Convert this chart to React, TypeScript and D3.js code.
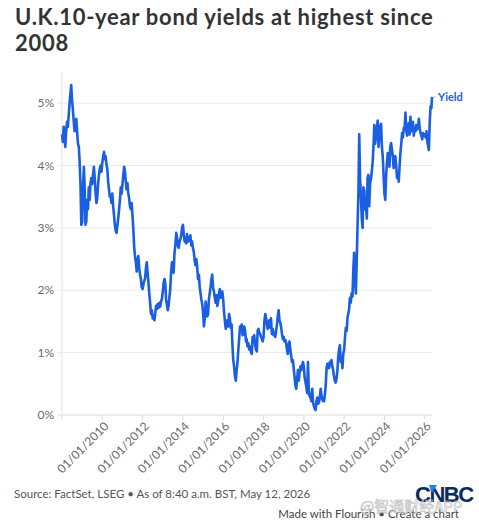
import { useEffect, useRef } from "react";
import * as d3 from "d3";

// U.K. 10-year gilt yield (%): two points a month (1st and 16th)
const y2008 = [4.5, 4.38, 4.62, 4.45, 4.3, 4.55, 4.7, 4.62, 4.8, 4.98, 5.15, 5.29, 5.05, 4.9, 4.7, 4.55, 4.68, 4.75, 4.55, 4.35, 4.3, 4.05, 3.7, 3.05];
const y2009 = [3.1, 3.65, 3.98, 3.6, 3.05, 3.1, 3.45, 3.3, 3.65, 3.45, 3.72, 3.8, 3.7, 3.85, 3.98, 3.8, 3.55, 3.4, 3.48, 3.7, 3.85, 3.95, 4.0, 3.9];
const y2010 = [4.05, 4.15, 4.22, 4.1, 4.15, 4.02, 3.95, 3.75, 3.62, 3.5, 3.5, 3.4, 3.55, 3.35, 3.2, 3.05, 2.95, 2.92, 3.05, 3.15, 3.3, 3.45, 3.65, 3.55];
const y2011 = [3.7, 3.85, 3.98, 3.9, 3.75, 3.62, 3.72, 3.55, 3.48, 3.35, 3.3, 3.4, 3.2, 3.0, 2.7, 2.55, 2.45, 2.3, 2.48, 2.55, 2.35, 2.25, 2.18, 2.05];
const y2012 = [2.02, 2.1, 2.15, 2.2, 2.35, 2.45, 2.28, 2.12, 1.95, 1.8, 1.62, 1.68, 1.55, 1.6, 1.52, 1.62, 1.75, 1.7, 1.78, 1.72, 1.8, 1.74, 1.82, 1.86];
const y2013 = [1.98, 2.12, 2.18, 2.1, 1.85, 1.78, 1.68, 1.75, 1.9, 2.02, 2.3, 2.45, 2.35, 2.28, 2.6, 2.72, 2.92, 2.85, 2.72, 2.68, 2.78, 2.82, 2.88, 3.0];
const y2014 = [3.05, 2.9, 2.78, 2.82, 2.75, 2.9, 2.78, 2.85, 2.8, 2.88, 2.72, 2.78, 2.68, 2.62, 2.48, 2.4, 2.5, 2.38, 2.18, 2.25, 2.05, 1.95, 1.85, 1.78];
const y2015 = [1.65, 1.42, 1.55, 1.82, 1.7, 1.58, 1.62, 1.85, 1.95, 2.05, 2.18, 2.25, 2.05, 1.98, 1.88, 1.8, 1.92, 1.75, 1.82, 1.95, 2.02, 1.88, 1.92, 1.98];
const y2016 = [1.85, 1.65, 1.5, 1.38, 1.45, 1.52, 1.42, 1.62, 1.55, 1.4, 1.45, 1.12, 0.88, 0.78, 0.62, 0.55, 0.72, 0.85, 1.05, 1.22, 1.42, 1.35, 1.45, 1.28];
const y2017 = [1.3, 1.42, 1.35, 1.18, 1.22, 1.1, 1.15, 1.05, 1.1, 1.02, 0.98, 1.25, 1.2, 1.28, 1.12, 1.05, 1.02, 1.35, 1.38, 1.32, 1.3, 1.25, 1.22, 1.18];
const y2018 = [1.25, 1.5, 1.62, 1.55, 1.48, 1.38, 1.45, 1.52, 1.4, 1.55, 1.3, 1.38, 1.28, 1.32, 1.25, 1.35, 1.45, 1.58, 1.68, 1.52, 1.48, 1.4, 1.3, 1.22];
const y2019 = [1.25, 1.18, 1.2, 1.15, 1.05, 0.98, 1.12, 1.18, 1.05, 0.95, 0.85, 0.88, 0.75, 0.62, 0.48, 0.42, 0.58, 0.72, 0.55, 0.68, 0.78, 0.72, 0.8, 0.85];
const y2020 = [0.78, 0.6, 0.52, 0.45, 0.35, 0.85, 0.38, 0.3, 0.28, 0.22, 0.42, 0.2, 0.15, 0.1, 0.08, 0.22, 0.28, 0.18, 0.2, 0.28, 0.42, 0.32, 0.25, 0.22];
const y2021 = [0.22, 0.32, 0.48, 0.75, 0.82, 0.78, 0.75, 0.85, 0.8, 0.88, 0.78, 0.72, 0.62, 0.55, 0.52, 0.58, 0.72, 0.95, 1.05, 1.12, 0.85, 0.92, 0.75, 0.98];
const y2022 = [1.05, 1.25, 1.4, 1.35, 1.55, 1.62, 1.7, 1.88, 1.8, 1.95, 1.9, 2.35, 2.6, 2.15, 1.95, 2.45, 3.05, 3.55, 4.5, 3.8, 3.5, 3.15, 3.0, 3.65];
const y2023 = [3.6, 3.3, 3.35, 3.15, 3.8, 3.85, 3.35, 3.72, 3.78, 3.9, 4.05, 4.3, 4.65, 4.35, 4.45, 4.6, 4.72, 4.3, 4.48, 4.62, 4.67, 4.3, 4.15, 3.85];
const y2024 = [3.55, 3.45, 3.85, 4.05, 4.2, 4.1, 3.98, 4.3, 4.36, 4.25, 4.15, 3.96, 4.12, 4.15, 4.0, 3.8, 3.88, 3.74, 3.98, 4.2, 4.35, 4.52, 4.45, 4.6];
const y2025 = [4.6, 4.85, 4.55, 4.48, 4.6, 4.68, 4.5, 4.78, 4.55, 4.62, 4.7, 4.48, 4.6, 4.55, 4.65, 4.58, 4.62, 4.75, 4.6, 4.52, 4.48, 4.42, 4.52, 4.48];
const y2026 = [4.5, 4.45, 4.55, 4.38, 4.32, 4.25, 4.7, 4.95, 4.92];

const years: [number, number[]][] = [
  [2008, y2008], [2009, y2009], [2010, y2010], [2011, y2011], [2012, y2012],
  [2013, y2013], [2014, y2014], [2015, y2015], [2016, y2016], [2017, y2017],
  [2018, y2018], [2019, y2019], [2020, y2020], [2021, y2021], [2022, y2022],
  [2023, y2023], [2024, y2024], [2025, y2025], [2026, y2026],
];
const lastDate = new Date(2026, 4, 12);
const lastValue = 5.1;

const yTicks = [0, 1, 2, 3, 4, 5];
const xTickYears = [2010, 2012, 2014, 2016, 2018, 2020, 2022, 2024, 2026];

const title = ["U.K.10-year bond yields at highest since", "2008"];
const source = "Source: FactSet, LSEG • As of 8:40 a.m. BST, May 12, 2026";
const credit = "Made with Flourish • Create a chart";

const W = 479;
const H = 526;
const FONT = "Lato, 'Noto Sans', sans-serif";
const BLUE = "#1a5fe2";

interface Point {
  date: Date;
  value: number;
}

export default function App() {
  const svgRef = useRef<SVGSVGElement>(null);

  useEffect(() => {
    if (!svgRef.current) return;
    const svg = d3.select(svgRef.current);
    svg.selectAll("*").remove();

    const data: Point[] = [];
    years.forEach(([yr, vals]) => {
      vals.forEach((v, i) => {
        data.push({ date: new Date(yr, Math.floor(i / 2), i % 2 ? 16 : 1), value: v });
      });
    });
    data.push({ date: lastDate, value: lastValue });

    const x = d3.scaleTime().domain([new Date(2008, 0, 1), lastDate]).range([62, 432]);
    const y = d3.scaleLinear().domain([0, 5.5]).range([415, 72]);

    // title
    svg
      .append("g")
      .selectAll("text")
      .data(title)
      .join("text")
      .attr("x", 15)
      .attr("y", (_, i) => 25 + i * 26)
      .attr("font-family", FONT)
      .attr("font-size", 22)
      .attr("font-weight", 700)
      .attr("letter-spacing", 0.7)
      .attr("fill", "#333")
      .text((d) => d);

    // grid + y labels
    const grid = svg.append("g");
    grid
      .selectAll("line")
      .data(yTicks)
      .join("line")
      .attr("x1", 58)
      .attr("x2", 432)
      .attr("y1", (d) => y(d))
      .attr("y2", (d) => y(d))
      .attr("stroke", (d) => (d === 0 ? "#dcdcdc" : "#e9e9e9"))
      .attr("stroke-width", 1);
    grid
      .selectAll("text")
      .data(yTicks)
      .join("text")
      .attr("x", 54)
      .attr("y", (d) => y(d))
      .attr("dy", "0.35em")
      .attr("text-anchor", "end")
      .attr("font-family", FONT)
      .attr("font-size", 12)
      .attr("fill", "#6a6a6a")
      .text((d) => `${d}%`);

    svg
      .append("line")
      .attr("x1", 62)
      .attr("x2", 62)
      .attr("y1", 72)
      .attr("y2", 420)
      .attr("stroke", "#e2e2e2");

    // x axis ticks + rotated labels
    const xt = svg
      .append("g")
      .selectAll("g")
      .data(xTickYears.map((yr) => new Date(yr, 0, 1)))
      .join("g")
      .attr("transform", (d) => `translate(${x(d)},0)`);
    xt.append("line")
      .attr("y1", 415)
      .attr("y2", 420)
      .attr("stroke", "#dcdcdc");
    xt.append("text")
      .attr("transform", "translate(4,424) rotate(-45)")
      .attr("dy", "0.35em")
      .attr("text-anchor", "end")
      .attr("font-family", FONT)
      .attr("font-size", 12)
      .attr("fill", "#6a6a6a")
      .text((d) => d3.timeFormat("%d/%m/%Y")(d));

    // line
    const line = d3
      .line<Point>()
      .x((d) => x(d.date))
      .y((d) => y(d.value));
    svg
      .append("path")
      .datum(data)
      .attr("d", line)
      .attr("fill", "none")
      .attr("stroke", BLUE)
      .attr("stroke-width", 2.6)
      .attr("stroke-linejoin", "round");

    // end label
    const ex = x(lastDate);
    const ey = y(lastValue);
    svg
      .append("line")
      .attr("x1", ex + 1)
      .attr("x2", ex + 4)
      .attr("y1", ey)
      .attr("y2", ey)
      .attr("stroke", "#bbb");
    svg
      .append("text")
      .attr("x", ex + 6)
      .attr("y", ey)
      .attr("dy", "0.35em")
      .attr("font-family", FONT)
      .attr("font-size", 11)
      .attr("font-weight", 700)
      .attr("fill", BLUE)
      .text("Yield");

    // footer
    svg
      .append("text")
      .attr("x", 14)
      .attr("y", 498)
      .attr("font-family", FONT)
      .attr("font-size", 11.5)
      .attr("fill", "#555")
      .text(source);
    svg
      .append("text")
      .attr("x", 459)
      .attr("y", 518)
      .attr("text-anchor", "end")
      .attr("font-family", FONT)
      .attr("font-size", 11.5)
      .attr("fill", "#444")
      .text(credit);

    // CNBC mark
    const logo = svg.append("g").attr("transform", "translate(415,502)");
    logo
      .append("text")
      .attr("font-family", "'Liberation Sans', Arial, sans-serif")
      .attr("font-size", 22)
      .attr("font-weight", 700)
      .attr("letter-spacing", -1.5)
      .attr("fill", "#0c2a5a")
      .text("CNBC");
    logo
      .append("path")
      .attr("d", "M14,-17 L22,-17 L17,-9 Z")
      .attr("fill", "#2a7de1");

    // watermark (sits over the footer in the original too)
    svg
      .append("text")
      .attr("x", 360)
      .attr("y", 512)
      .attr("font-family", "'Noto Sans CJK SC', sans-serif")
      .attr("font-size", 15)
      .attr("fill", "none")
      .attr("stroke", "#c4c4c4")
      .attr("stroke-width", 0.7)
      .text("@智通财经APP");
  }, []);

  return (
    <div style={{ position: "fixed", left: 0, top: 0, background: "#fff" }}>
      <svg ref={svgRef} width={W} height={H} />
    </div>
  );
}
